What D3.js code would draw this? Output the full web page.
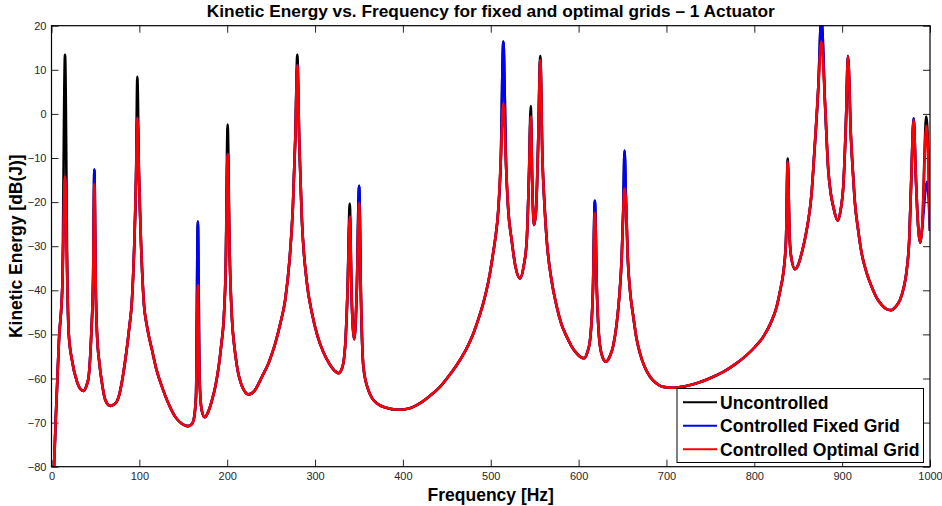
<!DOCTYPE html>
<html>
<head>
<meta charset="utf-8">
<script src="https://cdn.jsdelivr.net/npm/d3@7"></script>
<style>
  body { margin: 0; background: #fff; }
  svg { display: block; font-family: "Liberation Sans", Arial, sans-serif; }
  .tick text { fill: #262626; font-size: 11px; }
  .tick line { stroke: #262626; }
  .title { font-weight: bold; font-size: 17.3px; }
  .axis-label { font-weight: bold; font-size: 17.5px; }
  .legend text { font-weight: bold; font-size: 17.6px; }
</style>
</head>
<body>
<div id="chart"></div>
<script>
(function() {

  // -----------------------------
  // 1. DATA
  // -----------------------------
  // shared response curve [Hz, dB] - all three series sit on top of each other here
  const baseCurve = [
    [2.5, -82], [4.8, -69.4], [8.5, -51.3], [12.3, -39.2],
    [18.2, -40], [19.6, -49.8], [23.3, -55.8], [29.0, -60.7], [33, -62.4], [36.6, -62.8], [40, -61.5],
    [42.3, -59.6], [45.3, -49.8], [47.4, -37],
    [50.3, -39], [51.8, -49.8], [54.5, -56.5], [57.5, -61.1], [61.3, -64.9], [67.0, -66.2], [72, -65.8],
    [76.5, -64.1], [84.0, -55.8], [88.5, -48.5], [91.6, -42.2], [94.5, -28], [96.2, -15],
    [99.6, -14], [101.5, -27], [104.9, -42.2], [109, -48.5], [114.4, -53.5], [119.5, -58], [125.8, -61.9],
    [132.5, -65.4], [140.9, -68.7], [148, -70.2], [155.4, -70.8], [159, -70.5], [161.8, -69.4], [164.5, -64],
    [168.5, -60], [171, -67.2], [174.4, -68.8], [178.5, -67.5], [182.7, -64.9], [186.5, -61.8], [190.3, -57.3],
    [193.5, -52], [196, -46.7], [198.3, -35],
    [202.8, -32], [205.5, -46.7], [208, -52.5], [211.2, -57.3], [217, -61.8], [224.5, -63.6], [231, -62.8],
    [239.6, -59.6], [247.5, -56.3], [254.8, -52], [260.5, -47.5], [266, -42.2], [271, -33], [274.8, -21], [277.6, -5],
    [282.1, -7], [284.8, -23], [290.5, -38], [296.5, -45.2], [303, -50.5], [309.4, -54], [317, -56.9], [322, -58.2],
    [326.5, -58.8], [331, -57.5], [334.5, -52], [337, -40],
    [341.7, -42], [344.7, -51.1], [347.5, -40],
    [352.3, -42], [355, -57.3], [360.6, -62.6], [365, -64.5], [370.2, -65.6], [380, -66.6], [394.8, -67.1],
    [407, -66.8], [419.5, -65.6], [431, -63.9], [442.2, -61.9], [454, -59], [465, -55.8], [473, -53], [480.2, -49.8],
    [486, -46.5], [491.5, -42.9], [495.5, -39.7], [499.1, -36.1], [502, -32.5], [505, -28.5], [508.5, -22], [511.5, -10],
    [517.5, -12], [520, -22], [523.8, -28.6], [528, -34.5], [533.3, -37.3], [537.5, -34.5], [541, -28.6], [543.5, -14],
    [547.5, -18], [549.2, -25.2], [551.5, -22], [553.8, -8],
    [558.8, -10], [561, -20], [563.7, -28.6], [569, -37.5], [575.1, -43.7], [580.5, -47.7], [586.5, -50.5],
    [592, -52.7], [597.8, -54.3], [602, -55.1], [606.2, -55.4], [610, -54], [613, -51.3], [616.3, -40],
    [620.8, -40], [623.6, -51.3], [627, -55], [631.2, -56.2], [635, -55.2], [639.5, -52.5], [643.4, -47.5],
    [646.5, -41], [649.1, -32.4], [650.8, -22],
    [654, -20], [655.9, -32.4], [658.5, -40], [662.3, -46], [666, -51], [669.9, -54.3], [675, -57.3], [681.3, -59.6],
    [688, -61], [696.5, -61.9], [707.8, -62.1], [720, -61.8], [734.4, -61.1], [750, -59.9], [764.7, -58.5],
    [778, -56.8], [791.3, -54.7], [801, -52.8], [810.3, -50.5], [818.5, -47.5], [825.5, -43.7], [830, -39.5],
    [833, -36.1], [836.1, -28.6],
    [840.2, -28], [842, -32.5], [846.3, -35.2], [850, -34.2], [853.9, -31.6], [858, -28], [861.5, -24.1],
    [865, -18.5], [868.3, -8.9], [872.9, 6.2],
    [880.5, 2.4], [884.2, -12.7], [887, -18], [889.9, -21.0], [894.9, -24.2], [898.5, -21.5], [901.3, -16.5], [904.4, -1.4],
    [910.0, -5.2], [912.5, -14], [914.6, -20.3], [918, -26], [922.2, -31.6], [927.5, -35.8], [933.6, -39.2],
    [939, -41.6], [945.0, -43.3], [950, -44.2], [955.6, -44.5], [961, -43.7], [965.8, -42.2], [970, -39.5],
    [973.5, -35.4], [976.5, -28], [978.8, -14],
    [983.8, -14], [985.5, -22], [988.9, -29.2], [991, -26],
    [1000, -26.5]
  ];

  // resonance tips [Hz, dB] for each series
  const uncontrolledPeaks = [
    [15.4, 13.4], [48.8, -12.6], [97.7, 8.4], [166.6, -24.4], [200.5, -2.4], [279.8, 13.4],
    [339.5, -20.4], [350.2, -16.3], [514.3, 16.4], [545.5, 1.8], [556.4, 13.1], [618.5, -19.7],
    [652.3, -8.3], [838.0, -10.1], [876.3, 22], [906.6, 13.2], [981.4, -1.0], [995.8, -0.6]
  ];
  const fixedPeaks = [
    [15.4, -14.2], [48.8, -12.6], [97.7, -0.8], [166.6, -24.4], [200.5, -9.1], [279.8, 11.1],
    [339.5, -23.3], [350.2, -16.3], [514.3, 16.4], [545.5, -0.6], [556.4, 12.2], [618.5, -19.7],
    [652.3, -8.3], [838.0, -10.8], [876.3, 22], [906.6, 13.0], [981.4, -1.0], [996.6, -15.4]
  ];
  const optimalPeaks = [
    [15.4, -14.2], [48.8, -15.9], [97.7, -0.8], [166.6, -38.8], [200.5, -9.1], [279.8, 11.1],
    [339.5, -23.3], [350.2, -20.3], [514.3, 2.4], [545.5, -0.6], [556.4, 12.2], [618.5, -22.4],
    [652.3, -16.9], [838.0, -10.8], [876.3, 16.4], [906.6, 13.0], [981.4, -1.4], [995.8, -2.7]
  ];

  const seriesNames = ["Uncontrolled", "Controlled Fixed Grid", "Controlled Optimal Grid"];
  const seriesColors = ["#000000", "#0000ff", "#ff0000"];
  const xTicks = [0, 100, 200, 300, 400, 500, 600, 700, 800, 900, 1000];
  const yTicks = [-80, -70, -60, -50, -40, -30, -20, -10, 0, 10, 20];

  const series = [uncontrolledPeaks, fixedPeaks, optimalPeaks].map((peaks, i) => ({
    name: seriesNames[i],
    color: seriesColors[i],
    values: baseCurve.concat(peaks).sort((a, b) => a[0] - b[0])
  }));

  // -----------------------------
  // 2. SVG SETUP
  // -----------------------------
  const width = 942, height = 506;
  const plot = {left: 51.5, right: 930, top: 25.7, bottom: 466.7};

  const svg = d3.select("#chart").append("svg")
      .attr("width", width)
      .attr("height", height);

  const x = d3.scaleLinear().domain([0, 1000]).range([plot.left, plot.right]);
  const y = d3.scaleLinear().domain([-80, 20]).range([plot.bottom, plot.top]);

  svg.append("defs").append("clipPath").attr("id", "clip")
    .append("rect")
      .attr("x", plot.left).attr("y", plot.top)
      .attr("width", plot.right - plot.left).attr("height", plot.bottom - plot.top);

  // -----------------------------
  // 3. AXES (MATLAB box, ticks inside)
  // -----------------------------
  const tickLen = 7;
  const neg = v => v < 0 ? "\u2212" + Math.abs(v) : String(v);

  svg.append("g")
      .attr("transform", `translate(0,${plot.bottom})`)
      .call(d3.axisBottom(x).tickValues(xTicks).tickSizeInner(-tickLen).tickSizeOuter(0).tickPadding(6).tickFormat(d3.format("d")))
      .call(g => g.select(".domain").remove());

  svg.append("g")
      .attr("transform", `translate(0,${plot.top})`)
      .call(d3.axisTop(x).tickValues(xTicks).tickSizeInner(-tickLen).tickSizeOuter(0).tickFormat(""))
      .call(g => g.select(".domain").remove());

  svg.append("g")
      .attr("transform", `translate(${plot.left},0)`)
      .call(d3.axisLeft(y).tickValues(yTicks).tickSizeInner(-tickLen).tickSizeOuter(0).tickPadding(5).tickFormat(neg))
      .call(g => g.select(".domain").remove());

  svg.append("g")
      .attr("transform", `translate(${plot.right},0)`)
      .call(d3.axisRight(y).tickValues(yTicks).tickSizeInner(-tickLen).tickSizeOuter(0).tickFormat(""))
      .call(g => g.select(".domain").remove());

  svg.selectAll(".tick text").attr("font-size", null).attr("font-family", null);

  // -----------------------------
  // 4. LINES
  // -----------------------------
  const line = d3.line()
      .x(d => x(d[0]))
      .y(d => y(d[1]))
      .curve(d3.curveMonotoneX);

  svg.append("g")
      .attr("clip-path", "url(#clip)")
    .selectAll("path")
    .data(series)
    .enter().append("path")
      .attr("d", d => line(d.values))
      .attr("fill", "none")
      .attr("stroke", d => d.color)
      .attr("stroke-width", 2.6)
      .attr("stroke-linejoin", "round");

  // box on top of lines
  svg.append("rect")
      .attr("x", plot.left).attr("y", plot.top)
      .attr("width", plot.right - plot.left).attr("height", plot.bottom - plot.top)
      .attr("fill", "none")
      .attr("stroke", "#000")
      .attr("stroke-width", 1.2);

  // -----------------------------
  // 5. TEXT
  // -----------------------------
  svg.append("text")
      .attr("class", "title")
      .attr("x", (plot.left + plot.right) / 2)
      .attr("y", 17)
      .attr("text-anchor", "middle")
      .text("Kinetic Energy vs. Frequency for fixed and optimal grids \u2013 1 Actuator");

  svg.append("text")
      .attr("class", "axis-label")
      .attr("x", (plot.left + plot.right) / 2)
      .attr("y", 501)
      .attr("text-anchor", "middle")
      .text("Frequency [Hz]");

  svg.append("text")
      .attr("class", "axis-label")
      .attr("transform", `translate(22,${(plot.top + plot.bottom) / 2}) rotate(-90)`)
      .attr("text-anchor", "middle")
      .text("Kinetic Energy [dB(J)]");

  // -----------------------------
  // 6. LEGEND
  // -----------------------------
  const legend = svg.append("g").attr("class", "legend");
  legend.append("rect")
      .attr("x", 677).attr("y", 388.5)
      .attr("width", 246.5).attr("height", 74)
      .attr("fill", "#fff")
      .attr("stroke", "#000")
      .attr("stroke-width", 1);

  const items = legend.selectAll(".item")
      .data(series)
      .enter().append("g")
      .attr("class", "item")
      .attr("transform", (d, i) => `translate(683,${402.3 + i * 23.5})`);

  items.append("line")
      .attr("x1", 0).attr("x2", 34)
      .attr("stroke", d => d.color)
      .attr("stroke-width", 2);

  items.append("text")
      .attr("x", 37)
      .attr("dy", "0.36em")
      .text(d => d.name);

})();
</script>
</body>
</html>
